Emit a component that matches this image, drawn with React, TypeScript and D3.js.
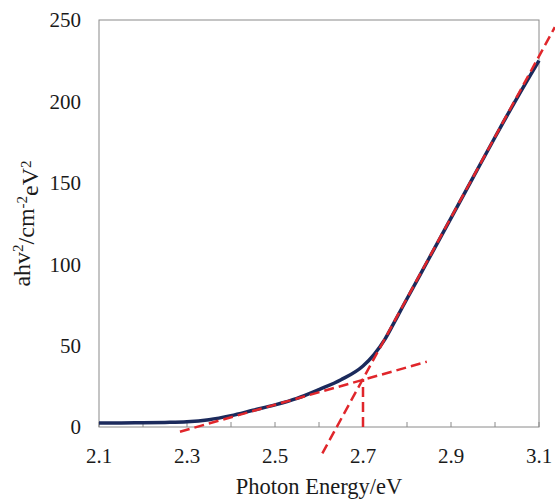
import { useEffect, useRef } from 'react';
import * as d3 from 'd3';

// photon energy (eV) and (ahv)^2
const energy = [2.1, 2.15, 2.2, 2.25, 2.3, 2.35, 2.4, 2.45, 2.5, 2.55, 2.6, 2.65, 2.7, 2.725, 2.75, 2.775, 2.8, 2.85, 2.9, 2.95, 3.0, 3.05, 3.1];
const absorb = [2.5, 2.5, 2.6, 2.8, 3.2, 4.5, 7.0, 10.3, 13.6, 17.6, 23.0, 29.0, 37.5, 44.5, 54.0, 66.3, 78.8, 103.5, 128.3, 153.2, 178, 202, 225];

// tangent (extrapolation) lines, end points in data units
const steepLine = [[2.6076, -16.2], [3.136, 245.6]];
const flatLine = [[2.284, -2.9], [2.845, 40.1]];
const gapLine = [[2.7, 0], [2.7, 29.3]];

const xTicks = [2.1, 2.3, 2.5, 2.7, 2.9, 3.1];
const xMinor = [2.1, 2.2, 2.3, 2.4, 2.5, 2.6, 2.7, 2.8, 2.9, 3.0, 3.1];
const yTicks = [0, 50, 100, 150, 200, 250];

const W = 555;
const H = 500;
const margin = { top: 20, right: 16, bottom: 73, left: 99 };

export default function App() {
    const svgRef = useRef<SVGSVGElement>(null);

    useEffect(() => {
        const root = d3.select(svgRef.current);
        root.selectAll('*').remove();

        const innerW = W - margin.left - margin.right;
        const innerH = H - margin.top - margin.bottom;
        const font = "'Liberation Serif', 'Times New Roman', serif";

        const x = d3.scaleLinear().domain([2.1, 3.1]).range([0, innerW]);
        const y = d3.scaleLinear().domain([0, 250]).range([innerH, 0]);

        const g = root.append('g').attr('transform', `translate(${margin.left},${margin.top})`);

        // frame
        g.append('rect')
            .attr('width', innerW)
            .attr('height', innerH)
            .attr('fill', 'none')
            .attr('stroke', '#8a8a8a')
            .attr('stroke-width', 1);

        // x minor ticks pointing inward
        g.selectAll('.xtick')
            .data(xMinor)
            .enter()
            .append('line')
            .attr('x1', d => x(d))
            .attr('x2', d => x(d))
            .attr('y1', innerH)
            .attr('y2', innerH - 5)
            .attr('stroke', '#8a8a8a');

        g.selectAll('.xlabel')
            .data(xTicks)
            .enter()
            .append('text')
            .attr('x', d => x(d))
            .attr('y', innerH + 36)
            .attr('text-anchor', 'middle')
            .style('font-family', font)
            .style('font-size', '21px')
            .attr('fill', '#1a1a1a')
            .text(d => d3.format('.1f')(d));

        g.selectAll('.ylabel')
            .data(yTicks)
            .enter()
            .append('text')
            .attr('x', -18)
            .attr('y', d => y(d))
            .attr('dy', '0.35em')
            .attr('text-anchor', 'end')
            .style('font-family', font)
            .style('font-size', '21px')
            .attr('fill', '#1a1a1a')
            .text(d => d);

        // main curve
        const line = d3.line<number>()
            .x((_, i) => x(energy[i]))
            .y(d => y(d))
            .curve(d3.curveMonotoneX);

        g.append('path')
            .datum(absorb)
            .attr('d', line)
            .attr('fill', 'none')
            .attr('stroke', '#1b2a5c')
            .attr('stroke-width', 3.5);

        // dashed tangents
        const seg = d3.line<number[]>().x(d => x(d[0])).y(d => y(d[1]));
        [steepLine, flatLine, gapLine].forEach(pts => {
            g.append('path')
                .attr('d', seg(pts))
                .attr('fill', 'none')
                .attr('stroke', '#e0262b')
                .attr('stroke-width', 2.5)
                .attr('stroke-dasharray', '10,5');
        });

        // axis titles
        root.append('text')
            .attr('x', margin.left + innerW / 2)
            .attr('y', 494)
            .attr('text-anchor', 'middle')
            .style('font-family', font)
            .style('font-size', '22.5px')
            .attr('fill', '#1a1a1a')
            .text('Photon Energy/eV');

        const yt = root.append('text')
            .attr('transform', `translate(30,${margin.top + innerH / 2}) rotate(-90)`)
            .attr('text-anchor', 'middle')
            .style('font-family', font)
            .style('font-size', '24px')
            .attr('fill', '#1a1a1a');
        yt.append('tspan').text('ahv');
        yt.append('tspan').attr('dy', '-0.45em').style('font-size', '15px').text('2');
        yt.append('tspan').attr('dy', '0.45em').text('/cm');
        yt.append('tspan').attr('dy', '-0.45em').style('font-size', '15px').text('-2');
        yt.append('tspan').attr('dy', '0.45em').text('eV');
        yt.append('tspan').attr('dy', '-0.45em').style('font-size', '15px').text('2');
    }, []);

    return (
        <svg
            ref={svgRef}
            width={W}
            height={H}
            style={{ position: 'absolute', left: 0, top: 0, background: '#fff' }}
        />
    );
}
